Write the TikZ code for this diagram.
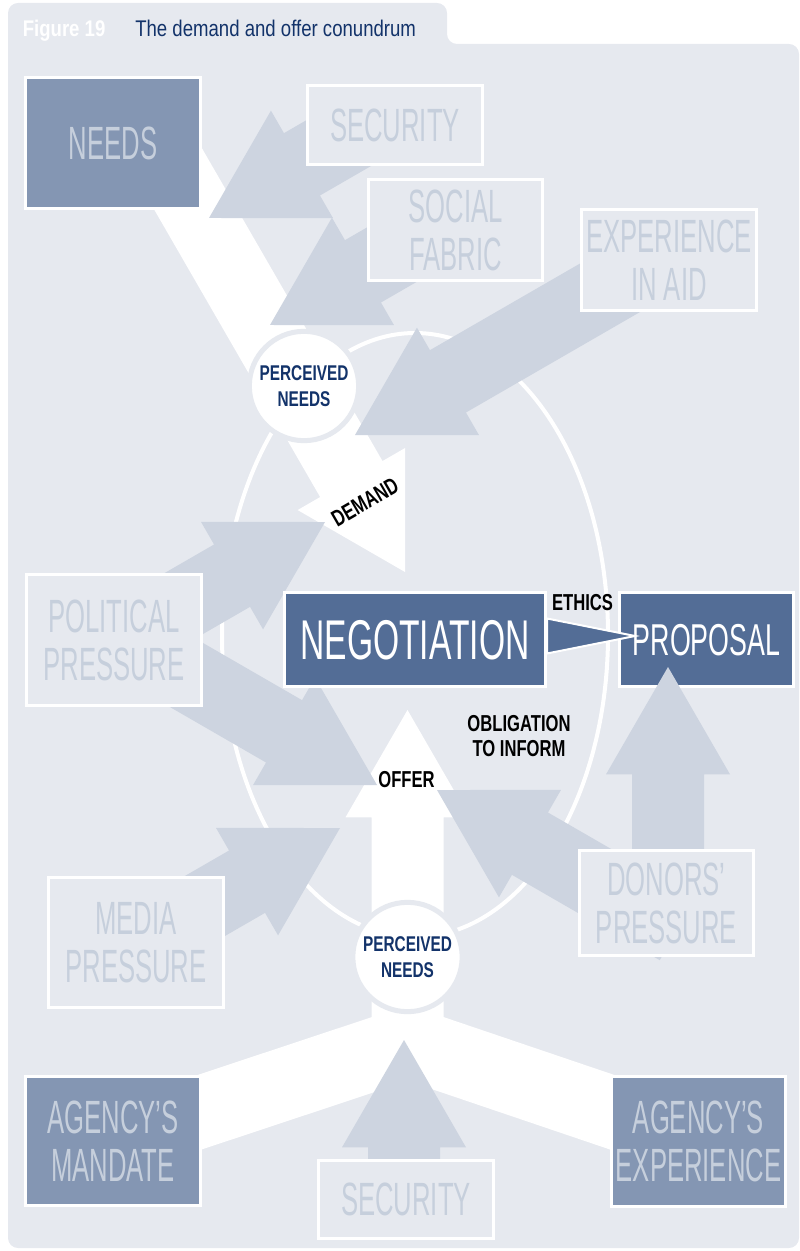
\documentclass[tikz,border=0pt]{standalone}
\usepackage{fontspec}
\usetikzlibrary{calc}
\setmainfont{Liberation Sans}
\newfontfamily\boxfont[FakeStretch=0.55]{Liberation Sans}
\newfontfamily\keyfont[FakeStretch=0.6]{Liberation Sans}
\newfontfamily\labfont[FakeStretch=0.72]{Liberation Sans}
\newfontfamily\titlefont[FakeStretch=0.82]{Liberation Sans}

\definecolor{panelbg}{RGB}{230,233,239}
\definecolor{arrowgray}{RGB}{205,212,224}
\definecolor{lighttext}{RGB}{198,207,220}
\definecolor{needsfill}{RGB}{132,150,179}
\definecolor{keyfill}{RGB}{83,109,150}
\definecolor{navy}{RGB}{19,51,106}

\pgfdeclarelayer{bg}
\pgfsetlayers{bg,main}

% block arrow: colour, tip, angle back to the tail, length
\newcommand{\blockarrow}[4]{%
  \coordinate (ab-tail) at ($(#2)+(#3:#4)$);
  \coordinate (ab-base) at ($(#2)!80.5pt!(ab-tail)$);
  \fill[#1] (#2) -- ($(ab-base)!46.5pt!90:(#2)$) -- ($(ab-base)!27pt!90:(#2)$)
    -- ($(ab-tail)!27pt!90:(#2)$) -- ($(ab-tail)!27pt!-90:(#2)$)
    -- ($(ab-base)!27pt!-90:(#2)$) -- ($(ab-base)!46.5pt!-90:(#2)$) -- cycle;
}

\tikzset{
  box/.style={rectangle, draw=white, line width=2.25pt, inner sep=0pt, align=center, text depth=0pt},
  lightbox/.style={box, fill=panelbg, text=lighttext, font=\boxfont\fontsize{35pt}{36pt}\selectfont},
  darkbox/.style={box, fill=needsfill, text=lighttext, font=\boxfont\fontsize{35pt}{36pt}\selectfont},
  keybox/.style={box, fill=keyfill, text=white, font=\keyfont\fontsize{42pt}{44pt}\selectfont},
  pneeds/.style={circle, fill=white, draw=panelbg, line width=3.75pt, minimum size=82pt, inner sep=0pt,
    align=center, text depth=0pt, text=navy, font=\labfont\bfseries\fontsize{16pt}{19.5pt}\selectfont},
  tag/.style={inner sep=0pt, align=center, text depth=0pt, text=black,
    font=\labfont\bfseries\fontsize{17.3pt}{18.75pt}\selectfont},
}

\begin{document}
\begin{tikzpicture}[x=0.75pt,y=-0.75pt]
\useasboundingbox (0,0) rectangle (799,1251);

%Title
\node[anchor=base west, inner sep=0pt, text=white, font=\titlefont\bfseries\fontsize{17pt}{19pt}\selectfont] (figno) at (22.5,37) {Figure 19};
\node[anchor=base west, inner sep=0pt, text=navy, font=\titlefont\fontsize{17pt}{19pt}\selectfont] (title) at (135,37) {The demand and offer conundrum};

%Boxes
\node[darkbox, minimum width=131.25pt, minimum height=98.25pt] (needs) at (113,143) {NEEDS};
\node[lightbox, minimum width=131.25pt, minimum height=59.25pt] (secA) at (395,125) {SECURITY};
\node[lightbox, minimum width=130.5pt, minimum height=75.75pt] (social) at (455.5,230) {SOCIAL\\FABRIC};
\node[lightbox, minimum width=131.25pt, minimum height=75.75pt] (expaid) at (669,260) {EXPERIENCE\\IN AID};
\node[lightbox, minimum width=131.25pt, minimum height=98.25pt] (political) at (114,640) {POLITICAL\\PRESSURE};
\node[keybox, minimum width=195.75pt, minimum height=70.5pt] (negotiation) at (415,639.5) {NEGOTIATION};
\node[keybox, minimum width=130.5pt, minimum height=70.5pt, font=\keyfont\fontsize{33.5pt}{36pt}\selectfont] (proposal) at (706.5,639.5) {PROPOSAL};
\node[lightbox, minimum width=131.25pt, minimum height=97.5pt] (media) at (136,942.5) {MEDIA\\PRESSURE};
\node[darkbox, minimum width=131.25pt, minimum height=96.75pt] (mandate) at (113,1141) {AGENCY’S\\MANDATE};
\node[lightbox, minimum width=131.25pt, minimum height=58.5pt] (secB) at (406,1199.5) {SECURITY};
\node[darkbox, minimum width=130.5pt, minimum height=97.5pt] (agencyexp) at (698.5,1141.5) {AGENCY’S\\EXPERIENCE};

%Donors push up into the proposal
\coordinate (proposal-tip) at (668,667);
\blockarrow{arrowgray}{proposal-tip}{90}{210}
\node[lightbox, minimum width=130.5pt, minimum height=78.75pt] (donors) at (666.5,903) {DONORS’\\PRESSURE};

%Ethics arrow
\draw[fill=keyfill, draw=white, line width=1.5pt] ($(negotiation.east)+(0,-21)$) -- ($(proposal.west)+(17,-3.5)$) -- ($(negotiation.east)+(0,14)$) -- cycle;

%Perceived needs
\node[pneeds] (pnA) at (304,386) {PERCEIVED\\NEEDS};
\node[pneeds] (pnB) at (407.5,957) {PERCEIVED\\NEEDS};

%Labels
\node[tag, rotate=30] (demand) at (365,502) {DEMAND};
\node[tag] (ethics) at (582.5,602.5) {ETHICS};
\node[tag] (oblig) at (519,736) {OBLIGATION\\TO INFORM};
\node[tag] (offer) at (406.5,779.5) {OFFER};

\begin{pgfonlayer}{bg}
%Panel and tab
\fill[panelbg, rounded corners=7.5pt] (8,1248) -- (8,3) -- (447,3) -- (447,44) -- (799,44) -- (799,1248) -- cycle;
%Ellipse
\draw[white, line width=3pt] (415,635) ellipse [x radius=193, y radius=302];
%White arrows
\coordinate (junc) at (408,1043);
\draw[white, line width=54pt] (mandate.center) -- (junc) -- (agencyexp.center);
\coordinate (offer-tip) at (407.5,710);
\blockarrow{white}{offer-tip}{90}{333}
\coordinate (demand-tip) at (405,572);
\blockarrow{white}{demand-tip}{-120}{480}
%Grey arrows
\coordinate (secA-tip) at (209,218);
\blockarrow{arrowgray}{secA-tip}{-30}{180}
\coordinate (social-tip) at (270,325);
\blockarrow{arrowgray}{social-tip}{-30}{200}
\coordinate (expaid-tip) at (355,435);
\blockarrow{arrowgray}{expaid-tip}{-30}{340}
\coordinate (politicalA-tip) at (325,522);
\blockarrow{arrowgray}{politicalA-tip}{150}{250}
\coordinate (politicalB-tip) at (377,785);
\blockarrow{arrowgray}{politicalB-tip}{210}{300}
\coordinate (media-tip) at (340,828);
\blockarrow{arrowgray}{media-tip}{150}{230}
\coordinate (donors-tip) at (437,790);
\blockarrow{arrowgray}{donors-tip}{30}{278}
\coordinate (secB-tip) at (404,1040);
\blockarrow{arrowgray}{secB-tip}{90}{150}
\end{pgfonlayer}
\end{tikzpicture}
\end{document}
